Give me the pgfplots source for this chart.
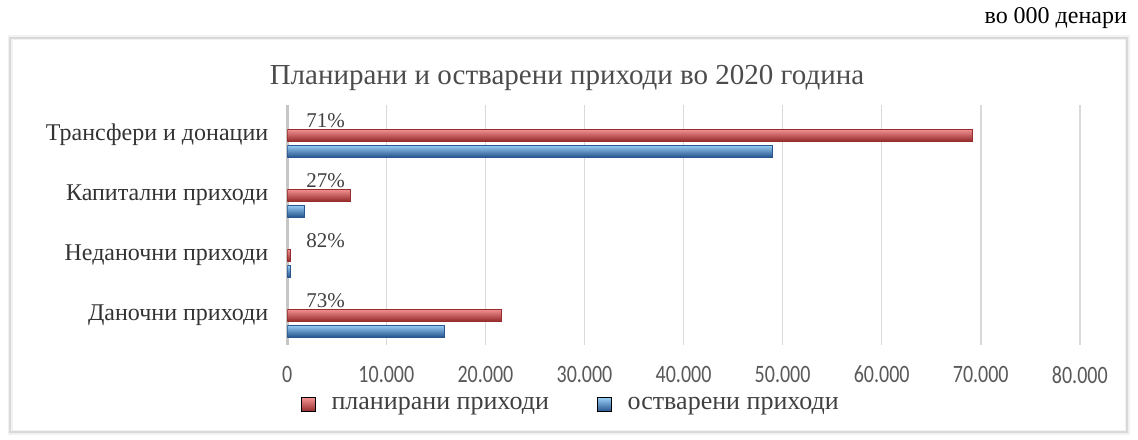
\documentclass[border=0pt]{standalone}
\usepackage{fontspec}
\setmainfont{Liberation Serif}
\newfontfamily\tickfont[FakeStretch=0.8]{Carlito}
\usepackage{pgfplots}
\pgfplotsset{compat=1.18}

\definecolor{redmid}{HTML}{DE484C}
\definecolor{redtop}{HTML}{F59496}
\definecolor{redbot}{HTML}{962C2C}
\definecolor{bluemid}{HTML}{4A98E2}
\definecolor{bluetop}{HTML}{9AD0F7}
\definecolor{bluebot}{HTML}{28558E}
\definecolor{gridgray}{HTML}{D9D9D9}

\pgfplotsset{
  planned/.style={bar shift=0pt, top color=redtop, middle color=redmid, bottom color=redbot, draw=redbot, line width=0.3pt},
  realised/.style={bar shift=-8pt, top color=bluetop, middle color=bluemid, bottom color=bluebot, draw=bluebot, line width=0.3pt},
}

\begin{document}
\begin{tikzpicture}
\useasboundingbox (0,0) rectangle (569pt,219.5pt);
% outer frame
\draw[gray!10, line width=2.5pt] (5pt,3.5pt) rectangle (563.5pt,200.5pt);
\draw[gridgray, line width=1pt] (5pt,3.5pt) rectangle (563.5pt,200.5pt);
\node[anchor=east, font=\fontsize{12}{14}\selectfont] at (567pt,210.5pt) {во 000 денари};
\node[font=\fontsize{14.5}{18}\selectfont, text=black!70] at (283.5pt,180.5pt) {Планирани и остварени приходи во 2020 година};

\begin{axis}[
    at={(143.65pt,47pt)}, anchor=south west,
    scale only axis,
    width=396.25pt, height=120pt,
    xbar, bar width=6pt,
    xmin=0, xmax=80000,
    ymin=-0.5, ymax=3.5,
    scaled x ticks=false,
    xtick={0,10000,...,80000},
    xticklabels={0,10.000,20.000,30.000,40.000,50.000,60.000,70.000,80.000},
    ytick={0,1,2,3},
    yticklabels={Даночни приходи,Неданочни приходи,Капитални приходи,Трансфери и донации},
    major tick length=0pt,
    xmajorgrids, major grid style={gridgray, line width=0.8pt},
    axis x line*=bottom,
    axis y line*=left,
    x axis line style={draw=none},
    y axis line style={gray!45, line width=1.2pt},
    xticklabel style={font=\tickfont\fontsize{12.5}{14}\selectfont, text=black!65, yshift=-7pt},
    yticklabel style={font=\fontsize{12}{14}\selectfont, text=black!80, xshift=-6pt},
    legend style={at={(0.359,-0.2475)}, anchor=center, draw=none, fill=none,
        legend columns=2, font=\fontsize{13}{15}\selectfont, text=black!75,
        /tikz/every even column/.append style={column sep=22pt}},
    legend image code/.code={\fill[#1] (0pt,-3.5pt) rectangle (7pt,3.5pt);},
]
% one plot per bar so that each bar carries its own shading
\addplot[planned, forget plot] coordinates {(21640,0)};
\addplot[planned, forget plot] coordinates {(350,1)};
\addplot[planned, forget plot] coordinates {(6400,2)};
\addplot[planned, forget plot] coordinates {(69150,3)};
\addplot[realised, forget plot] coordinates {(15890,0)};
\addplot[realised, forget plot] coordinates {(287,1)};
\addplot[realised, forget plot] coordinates {(1730,2)};
\addplot[realised, forget plot] coordinates {(49000,3)};

\addlegendimage{top color=redtop, middle color=redmid, bottom color=redbot}
\addlegendentry{\hspace{6pt}планирани приходи}
\addlegendimage{top color=bluetop, middle color=bluemid, bottom color=bluebot}
\addlegendentry{\hspace{6pt}остварени приходи}

\node[anchor=west, font=\fontsize{10.5}{12}\selectfont, text=black!75] at (axis cs:0,3) [xshift=6pt, yshift=7pt] {71\%};
\node[anchor=west, font=\fontsize{10.5}{12}\selectfont, text=black!75] at (axis cs:0,2) [xshift=6pt, yshift=7pt] {27\%};
\node[anchor=west, font=\fontsize{10.5}{12}\selectfont, text=black!75] at (axis cs:0,1) [xshift=6pt, yshift=7pt] {82\%};
\node[anchor=west, font=\fontsize{10.5}{12}\selectfont, text=black!75] at (axis cs:0,0) [xshift=6pt, yshift=7pt] {73\%};
\end{axis}
\end{tikzpicture}
\end{document}
